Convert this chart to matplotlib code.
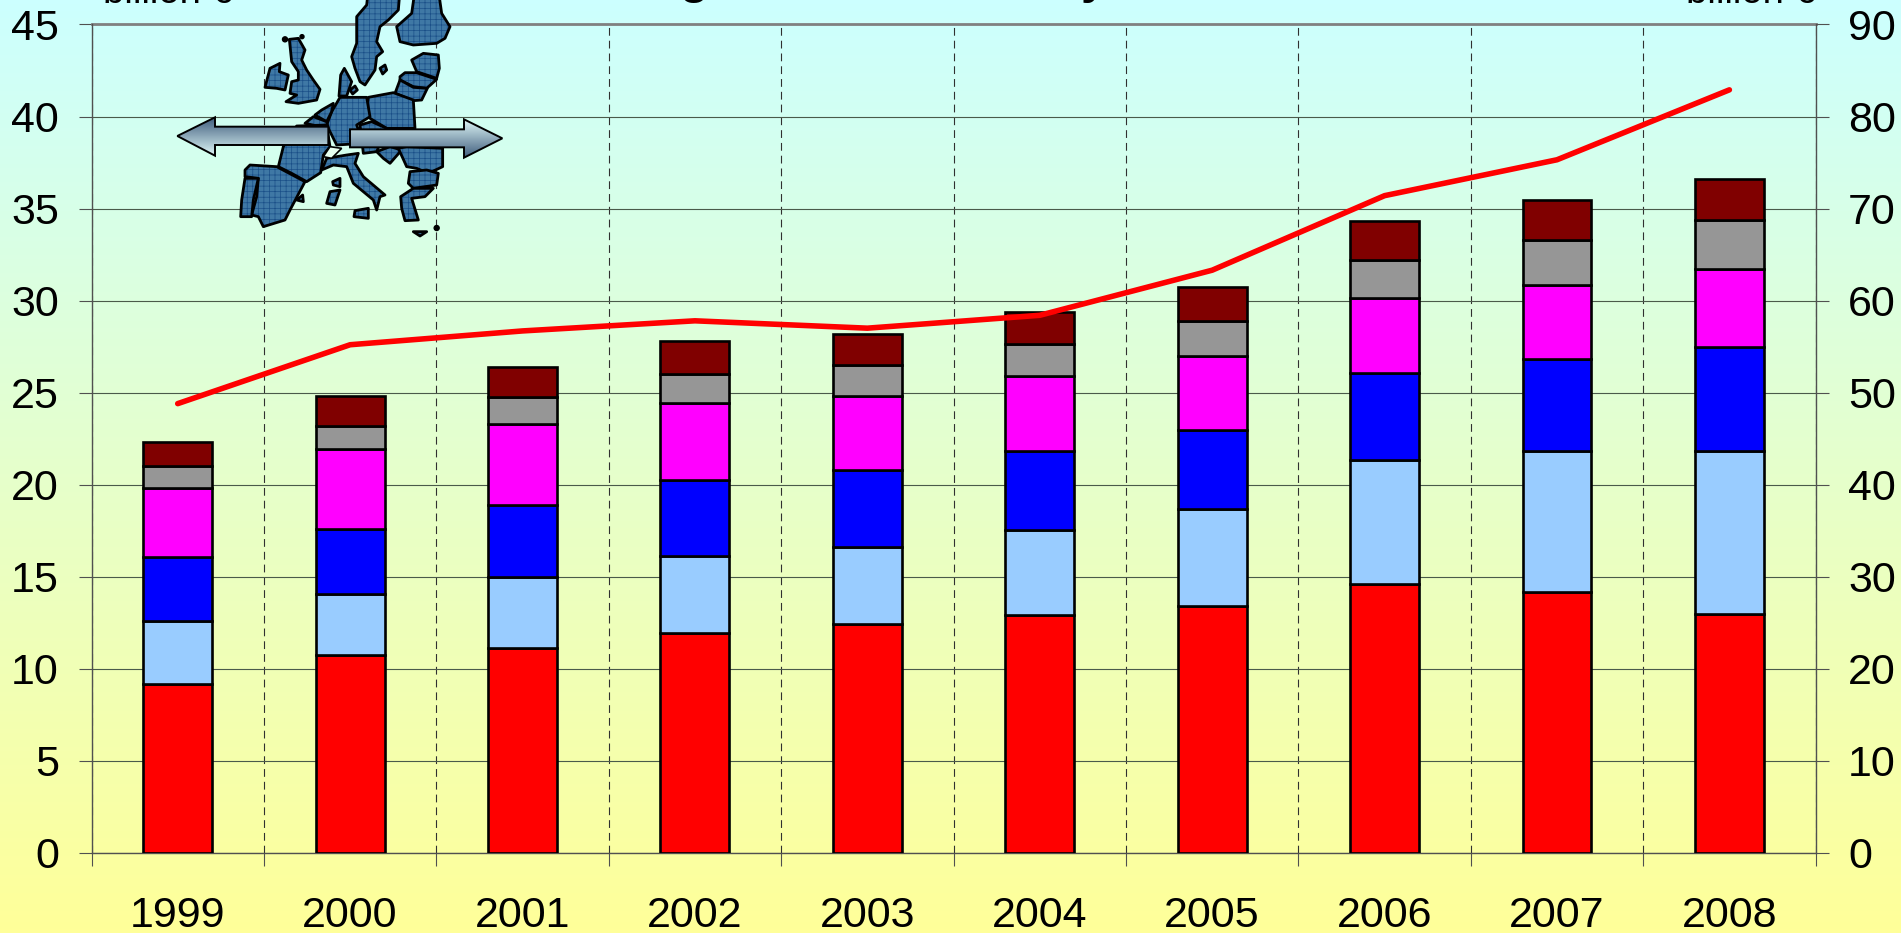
import numpy as np
import matplotlib
matplotlib.use('Agg')
from matplotlib import pyplot as plt
from matplotlib.patches import Polygon, Circle

plt.rcParams['font.family'] = ['Liberation Sans', 'DejaVu Sans']
plt.rcParams['hatch.linewidth'] = 0.5

years = ['1999', '2000', '2001', '2002', '2003', '2004', '2005', '2006', '2007', '2008']
seg_red = [9.15, 10.75, 11.1, 11.95, 12.45, 12.9, 13.4, 14.6, 14.15, 12.95]
seg_lightblue = [3.45, 3.3, 3.9, 4.15, 4.15, 4.65, 5.25, 6.75, 7.7, 8.85]
seg_blue = [3.45, 3.55, 3.9, 4.15, 4.2, 4.3, 4.3, 4.7, 5.0, 5.65]
seg_magenta = [3.75, 4.35, 4.4, 4.2, 4.0, 4.05, 4.05, 4.1, 4.0, 4.25]
seg_grey = [1.2, 1.25, 1.45, 1.55, 1.7, 1.75, 1.9, 2.05, 2.45, 2.7]
seg_maroon = [1.3, 1.6, 1.65, 1.8, 1.7, 1.75, 1.85, 2.1, 2.15, 2.2]
line_total = [48.8, 55.2, 56.7, 57.8, 57.0, 58.4, 63.3, 71.4, 75.3, 82.9]

segments = [seg_red, seg_lightblue, seg_blue, seg_magenta, seg_grey, seg_maroon]
seg_colors = ['#FF0000', '#99CCFF', '#0000FF', '#FF00FF', '#969696', '#800000']

W, H = 1901, 933
L, R, T, B = 91.5, 1815.6, 24.5, 852.7
axis_color = '#505050'

fig = plt.figure(figsize=(W/100, H/100), dpi=100)

# background gradient
bg = fig.add_axes([0, 0, 1, 1], zorder=0)
top_c = np.array([0xCC, 0xFF, 0xFF])/255
bot_c = np.array([0xFF, 0xFF, 0x99])/255
t = np.linspace(0, 1, 256)[:, None, None]
bg.imshow(top_c*(1-t)+bot_c*t, aspect='auto', extent=[0, 1, 0, 1])
bg.axis('off')

ax = fig.add_axes([L/W, (H-B)/H, (R-L)/W, (B-T)/H], zorder=1)
ax.patch.set_alpha(0)
x = np.arange(len(years))
bottom = np.zeros(len(years))
for vals, col in zip(segments, seg_colors):
	ax.bar(x, vals, 0.4, bottom=bottom, color=col, edgecolor='black', linewidth=1.9, zorder=3)
	bottom += np.array(vals)

ax.set_xlim(-0.5, len(years)-0.5)
ax.set_ylim(0, 45)
ax.set_yticks(range(0, 46, 5))
ax.set_xticks(np.arange(-0.5, len(years), 1))
ax.set_xticklabels([])
ax.set_xticks(x, labels=years, minor=True)
ax.tick_params(axis='x', which='minor', length=0, pad=31, labelsize=31)
ax.tick_params(axis='x', which='major', length=9.5, width=0.8, color=axis_color)
ax.tick_params(axis='y', length=9.5, width=0.8, color=axis_color, pad=14, labelsize=31)
ax.grid(axis='y', color='#4a5a4a', linewidth=0.8, zorder=1)
ax.grid(axis='x', color='#303030', linewidth=0.8, linestyle=(0, (7, 4.5)), zorder=1)
ax.set_axisbelow(True)
for s in ['top', 'right']:
	ax.spines[s].set_visible(False)
for s in ['left', 'bottom']:
	ax.spines[s].set_color(axis_color)
	ax.spines[s].set_linewidth(1.0)
ax.axhline(45, color='#808080', linewidth=2, zorder=2, clip_on=False)

ax2 = ax.twinx()
ax2.set_zorder(2)
ax2.patch.set_alpha(0)
ax2.plot(x, line_total, color='#FF0000', linewidth=4, solid_capstyle='round', solid_joinstyle='round')
ax2.set_ylim(0, 90)
ax2.set_yticks(range(0, 91, 10))
ax2.tick_params(axis='y', length=9.5, width=0.8, color=axis_color, pad=14, labelsize=31)
for s in ['top', 'left', 'bottom']:
	ax2.spines[s].set_visible(False)
ax2.spines['right'].set_color(axis_color)
ax2.spines['right'].set_linewidth(1.0)

# overlay in pixel coordinates for the map, arrows and the cut-off texts
ov = fig.add_axes([0, 0, 1, 1], zorder=3)
ov.patch.set_alpha(0)

def px(pts):
	return [(150+a/3, b/3) for a, b in pts]

countries = [
	[(655,-30),(750,-30),(745,30),(715,60),(690,80),(680,125),(698,155),(680,170),(675,210),(645,255),(630,245),(615,205),(605,170),(620,130),(620,50),(650,15)],
	[(795,-30),(865,-30),(875,40),(900,80),(885,115),(860,130),(790,135),(750,125),(740,80),(785,40)],
	[(345,262),(360,205),(390,190),(388,215),(415,225),(405,270),(380,265)],
	[(418,118),(445,115),(465,150),(455,180),(470,210),(490,240),(510,268),(500,300),(445,310),(408,305),(440,285),(420,280),(425,245),(445,240),(445,215),(425,185)],
	[(567,288),(572,225),(583,205),(605,245),(590,288)],
	[(600,270),(615,258),(622,270),(608,282)],
	[(690,205),(705,195),(710,210),(698,222)],
	[(785,180),(820,160),(865,165),(868,205),(860,235),(800,215)],
	[(750,230),(765,218),(800,218),(860,238),(830,265),(790,260),(750,240)],
	[(735,280),(750,240),(790,262),(832,265),(815,300),(790,302)],
	[(655,292),(730,278),(790,300),(795,385),(710,385),(660,355),(650,325)],
	[(570,292),(650,292),(660,350),(620,375),(640,430),(560,435),(530,375),(545,335)],
	[(515,330),(550,310),(545,335),(530,365),(495,345)],
	[(490,350),(530,365),(535,385),(465,370)],
	[(440,378),(530,375),(540,440),(520,465),(512,518),(470,545),(425,520),(385,500),(400,440)],
	[(285,510),(300,495),(380,500),(465,545),(420,630),(405,660),(340,680),(325,650),(305,645),(320,590),(325,535),(285,530)],
	[(285,535),(325,535),(310,600),(305,650),(272,650),(275,600)],
	[(515,510),(530,475),(590,465),(625,460),(615,490),(640,530),(705,585),(690,590),(680,630),(670,600),(610,550),(590,500),(550,495)],
	[(548,545),(570,535),(570,560),(550,555)],
	[(540,575),(570,570),(555,615),(530,610)],
	[(615,632),(655,625),(655,655),(612,650)],
	[(630,375),(665,365),(710,385),(680,455),(640,460)],
	[(680,455),(720,440),(755,450),(720,490),(700,475)],
	[(745,445),(770,440),(878,445),(878,500),(835,520),(800,505),(770,500)],
	[(780,515),(830,510),(865,520),(860,555),(790,565),(775,550)],
	[(752,590),(790,565),(850,565),(825,590),(785,595),(805,660),(765,662),(755,625)],
	[(790,695),(830,695),(810,708)],
	[(440,600),(458,585),(460,605)],
]
for poly in countries:
	ov.add_patch(Polygon(px(poly), closed=True, facecolor='#3F78A5', edgecolor='#1A4F88', hatch='+++', linewidth=0))
	ov.add_patch(Polygon(px(poly), closed=True, fill=False, edgecolor='black', linewidth=2.0, joinstyle='round'))
ov.add_patch(Polygon(px([(520,470),(540,440),(575,445),(545,475)]), closed=True, facecolor='#E6FFF0', edgecolor='black', linewidth=1.2))
ov.add_patch(Circle((150+860/3, 684/3), 2.5, color='black'))
ov.add_patch(Circle((150+405/3, 118/3), 2.5, color='black'))
ov.add_patch(Circle((150+456/3, 110/3), 2, color='black'))

left_arrow = [(82,408),(195,352),(195,380),(535,380),(535,435),(195,435),(195,467)]
right_arrow = [(1057,415),(942,358),(942,388),(600,388),(600,442),(942,442),(942,473)]
dark = np.array([0x3E, 0x5C, 0x7C])/255
pale = np.array([0xE0, 0xF8, 0xF8])/255
g = np.linspace(0, 1, 128)[:, None, None]
for arrow, grad in [(left_arrow, dark*(1-g)+pale*g), (right_arrow, pale*(1-g)+dark*g)]:
	pts = px(arrow)
	ys = [p[1] for p in pts]
	xs = [p[0] for p in pts]
	im = ov.imshow(grad, aspect='auto', extent=[min(xs), max(xs), max(ys), min(ys)], zorder=5)
	clip = Polygon(pts, closed=True, transform=ov.transData, fill=False, edgecolor='black', linewidth=1.4, zorder=6)
	ov.add_patch(clip)
	im.set_clip_path(clip)

ov.set_xlim(0, W)
ov.set_ylim(H, 0)
ov.axis('off')

# texts cut off by the top edge of the picture
ov.text(103, 3, 'billion €', fontsize=27.5, ha='left', va='baseline', clip_on=False)
ov.text(1816, 3, 'billion €', fontsize=27.5, ha='right', va='baseline', clip_on=False)
ov.text(694, -7, 'g', fontsize=34, fontweight='bold', ha='center', va='baseline', clip_on=False)
ov.text(1094, -7, 'y', fontsize=34, fontweight='bold', ha='center', va='baseline', clip_on=False)

fig.savefig('out.png', dpi=100)
